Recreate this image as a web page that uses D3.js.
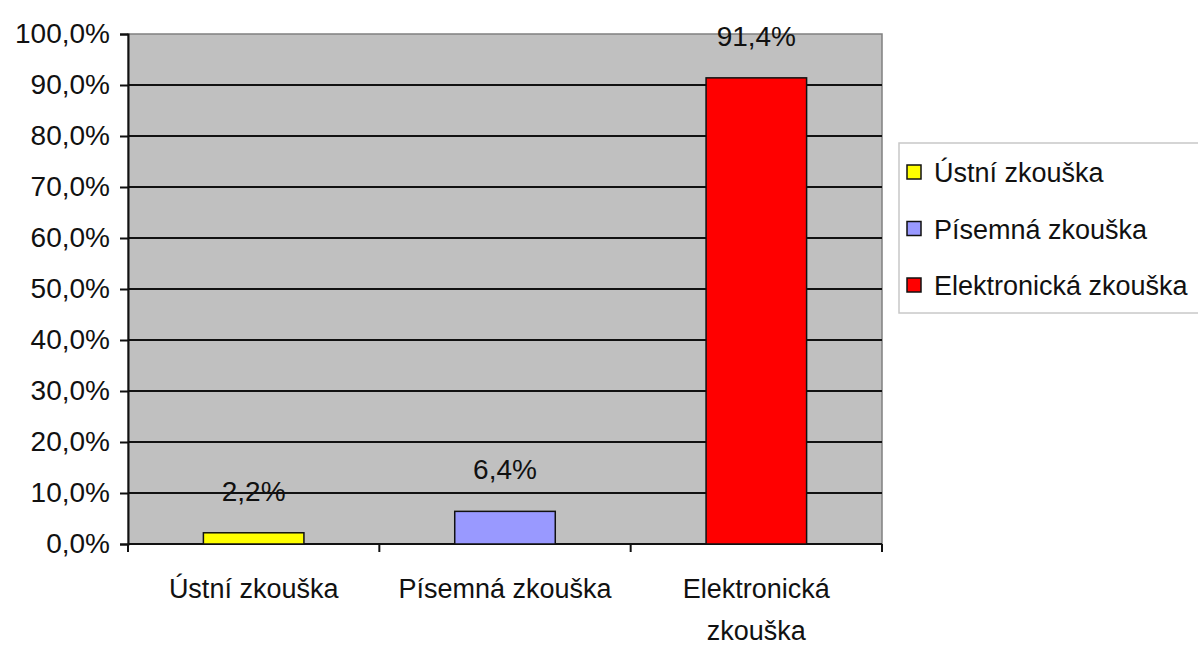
<!DOCTYPE html>
<html>
<head>
<meta charset="utf-8">
<script src="https://cdn.jsdelivr.net/npm/d3@7"></script>
<style>
  body { margin: 0; background: #fff; }
  text { font-family: "Liberation Sans", Arial, sans-serif; fill: #111; }
</style>
</head>
<body>
<div id="chart"></div>
<script>
const categories = ["Ústní zkouška", "Písemná zkouška", "Elektronická zkouška"];
const axisLabels = [["Ústní zkouška"], ["Písemná zkouška"], ["Elektronická", "zkouška"]];
const values = [2.2, 6.4, 91.4];
const colors = ["#ffff00", "#9999ff", "#ff0000"];
const yTicks = [0, 10, 20, 30, 40, 50, 60, 70, 80, 90, 100];

const width = 1198, height = 648;
const plotLeft = 128, plotRight = 882, plotTop = 34, plotBottom = 544;

const svg = d3.select("#chart").append("svg")
  .attr("width", width).attr("height", height);

const x = d3.scaleBand().domain(categories).range([plotLeft, plotRight])
  .paddingInner(0.6).paddingOuter(0.3);
const step = (plotRight - plotLeft) / categories.length;
const y = d3.scaleLinear().domain([0, 100]).range([plotBottom, plotTop]);
const fmt = v => d3.format(".1f")(v).replace(".", ",") + "%";

// plot background
svg.append("rect")
  .attr("x", plotLeft).attr("y", plotTop)
  .attr("width", plotRight - plotLeft).attr("height", plotBottom - plotTop)
  .attr("fill", "#c0c0c0").attr("stroke", "#808080").attr("stroke-width", 1.5);

// gridlines
svg.selectAll(".grid").data(yTicks.filter(d => d > 0 && d < 100)).enter()
  .append("line")
  .attr("x1", plotLeft).attr("x2", plotRight)
  .attr("y1", d => y(d)).attr("y2", d => y(d))
  .attr("stroke", "#111").attr("stroke-width", 2);

// y axis
const yAxis = svg.append("g")
  .attr("transform", "translate(" + plotLeft + ",0)")
  .call(d3.axisLeft(y).tickValues(yTicks).tickFormat(fmt).tickSize(8).tickPadding(10));
yAxis.select(".domain").attr("stroke", "#111").attr("stroke-width", 2);
yAxis.selectAll(".tick line").attr("stroke", "#111").attr("stroke-width", 2);
yAxis.selectAll("text").attr("font-size", "28px").attr("fill", "#111")
  .attr("font-family", "'Liberation Sans', Arial, sans-serif");

// x axis line + boundary ticks
svg.append("line")
  .attr("x1", plotLeft).attr("x2", plotRight).attr("y1", plotBottom).attr("y2", plotBottom)
  .attr("stroke", "#111").attr("stroke-width", 2);
svg.selectAll(".xtick").data(d3.range(categories.length + 1)).enter()
  .append("line")
  .attr("x1", i => plotLeft + i * step).attr("x2", i => plotLeft + i * step)
  .attr("y1", plotBottom).attr("y2", plotBottom + 8)
  .attr("stroke", "#111").attr("stroke-width", 2);

// bars
svg.selectAll(".bar").data(values).enter()
  .append("rect")
  .attr("x", (d, i) => x(categories[i]))
  .attr("y", d => y(d))
  .attr("width", x.bandwidth())
  .attr("height", d => plotBottom - y(d))
  .attr("fill", (d, i) => colors[i])
  .attr("stroke", "#111").attr("stroke-width", 1.5);

// value labels
svg.selectAll(".val").data(values).enter()
  .append("text")
  .attr("x", (d, i) => x(categories[i]) + x.bandwidth() / 2)
  .attr("y", d => y(d) - 32)
  .attr("text-anchor", "middle")
  .attr("font-size", "28px")
  .text(d => String(d).replace(".", ",") + "%");

// category labels
axisLabels.forEach((lines, i) => {
  const cx = x(categories[i]) + x.bandwidth() / 2;
  const t = svg.append("text").attr("text-anchor", "middle").attr("font-size", "27px");
  lines.forEach((ln, j) => {
    t.append("tspan").attr("x", cx).attr("y", 598 + j * 42).text(ln);
  });
});

// legend
const lg = svg.append("g");
lg.append("rect")
  .attr("x", 899).attr("y", 143).attr("width", 310).attr("height", 170)
  .attr("fill", "#fff").attr("stroke", "#c8c8c8").attr("stroke-width", 1.5);
categories.forEach((c, i) => {
  const cy = 172 + i * 56.5;
  lg.append("rect")
    .attr("x", 907).attr("y", cy - 7).attr("width", 14).attr("height", 14)
    .attr("fill", colors[i]).attr("stroke", "#111").attr("stroke-width", 1.5);
  lg.append("text")
    .attr("x", 934).attr("y", cy + 10)
    .attr("font-size", "27px")
    .text(c);
});
</script>
</body>
</html>
